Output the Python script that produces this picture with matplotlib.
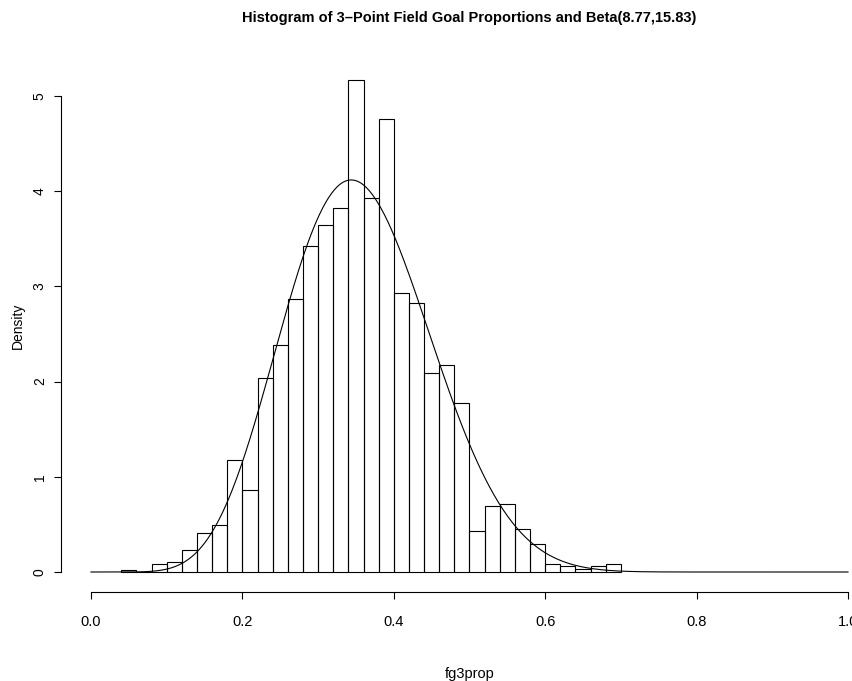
import math
import numpy as np
import matplotlib
matplotlib.use("Agg")
import matplotlib.pyplot as plt

# ---- data ----
bin_left = [0.04, 0.06, 0.08, 0.10, 0.12, 0.14, 0.16, 0.18, 0.20, 0.22, 0.24,
            0.26, 0.28, 0.30, 0.32, 0.34, 0.36, 0.38, 0.40, 0.42, 0.44, 0.46,
            0.48, 0.50, 0.52, 0.54, 0.56, 0.58, 0.60, 0.62, 0.64, 0.66, 0.68]
bin_width = 0.02
density = [0.02, 0.0, 0.084, 0.105, 0.23, 0.41, 0.49, 1.18, 0.86, 2.04, 2.38,
           2.87, 3.42, 3.64, 3.82, 5.17, 3.93, 4.76, 2.93, 2.83, 2.09, 2.17,
           1.77, 0.43, 0.69, 0.71, 0.45, 0.29, 0.084, 0.063, 0.03, 0.066, 0.084]
beta_a, beta_b = 8.77, 15.83
x_ticks = [0.0, 0.2, 0.4, 0.6, 0.8, 1.0]
x_tick_labels = ["0.0", "0.2", "0.4", "0.6", "0.8", "1.0"]
y_ticks = [0, 1, 2, 3, 4, 5]

title = "Histogram of 3\u2013Point Field Goal Proportions and Beta(8.77,15.83)"

W, H = 853, 681
fig = plt.figure(figsize=(W / 100, H / 100), dpi=100)
left_px, right_px, top_px, bottom_px = 60.7, 878.3, 60.0, 591.7
ax = fig.add_axes([left_px / W, 1 - bottom_px / H,
                   (right_px - left_px) / W, (bottom_px - top_px) / H])

ax.bar(bin_left, density, width=bin_width, align="edge", fill=False,
       edgecolor="black", linewidth=0.8)

xs = np.linspace(0, 1, 501)
lb = math.lgamma(beta_a) + math.lgamma(beta_b) - math.lgamma(beta_a + beta_b)
pdf = np.exp((beta_a - 1) * np.log(np.clip(xs, 1e-300, None))
             + (beta_b - 1) * np.log(np.clip(1 - xs, 1e-300, None)) - lb)
ax.plot(xs, pdf, color="black", linewidth=0.8)

ymax = max(density)
ax.set_xlim(-0.04, 1.04)
ax.set_ylim(-0.04 * ymax, ymax * 1.04)

for s in ["top", "right"]:
    ax.spines[s].set_visible(False)
ax.spines["left"].set_bounds(0, 5)
ax.spines["bottom"].set_bounds(0, 1)
for s in ["left", "bottom"]:
    ax.spines[s].set_linewidth(0.8)

fam = ["Liberation Sans", "DejaVu Sans"]
ax.set_xticks(x_ticks)
ax.set_xticklabels(x_tick_labels, family=fam, fontsize=10.5)
ax.set_yticks(y_ticks)
ax.set_yticklabels([str(v) for v in y_ticks], rotation=90, va="center",
                   family=fam, fontsize=10)
ax.tick_params(axis="both", direction="out", length=5, width=0.8)
ax.tick_params(axis="x", pad=12)
ax.tick_params(axis="y", pad=5)

ax.set_xlabel("fg3prop", family=fam, fontsize=10.5, labelpad=27)
ax.set_ylabel("Density", family=fam, fontsize=10, labelpad=6)
fig.text((left_px + right_px) / 2 / W, 1 - 18 / H, title, ha="center",
         va="center", family=fam, fontsize=10.5, fontweight="bold")

fig.savefig("out.png", dpi=100)
